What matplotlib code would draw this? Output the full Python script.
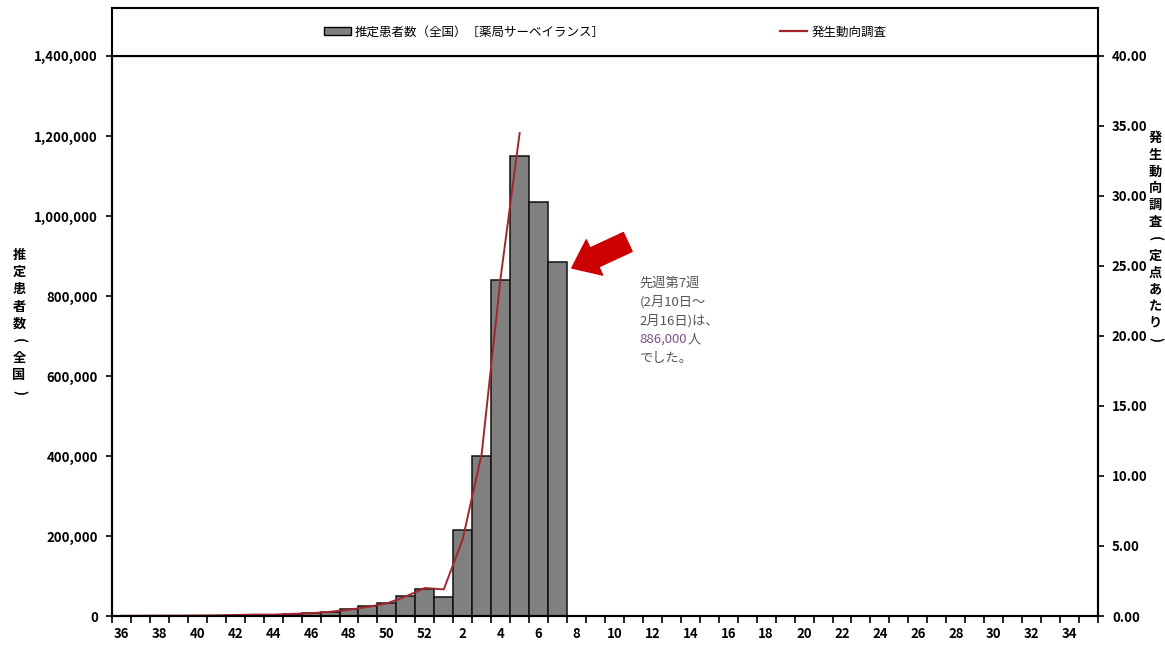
import matplotlib
matplotlib.use('Agg')
import numpy as np
import matplotlib.pyplot as plt
from matplotlib.patches import Patch
from matplotlib.lines import Line2D

plt.rcParams['font.family'] = ['Noto Sans CJK JP', 'DejaVu Sans']

# week numbers on the x axis (season: week 36 .. week 35)
weeks = list(range(36, 53)) + list(range(1, 36))

# estimated patients (pharmacy surveillance), week 36 .. week 7
patients = [0, 0, 0, 0, 0, 0, 0,
            2000, 3000, 4000, 7000, 10000, 17500, 25000, 32500, 50000, 67500,
            47500, 215000, 400000, 840000, 1150000, 1035000, 886000]

# sentinel surveillance (per sentinel site), week 36 .. week 5
sentinel = [0.02, 0.02, 0.03, 0.03, 0.04, 0.05, 0.07,
            0.1, 0.1, 0.15, 0.2, 0.3, 0.45, 0.65, 0.9, 1.4, 2.0,
            1.9, 5.5, 11.6, 24.2, 34.5]

left_ticks = list(range(0, 1400001, 200000))
right_ticks = [0, 5, 10, 15, 20, 25, 30, 35, 40]

bar_label = '推定患者数（全国）［薬局サーベイランス］'
line_label = '発生動向調査'
left_ylabel = '推定患者数(全国)'
right_ylabel = '発生動向調査(定点あたり)'
note_lines = ['先週第7週', '(2月10日～', '2月16日)は、', '886,000', 'でした。']

BAR_COLOR = '#808080'
LINE_COLOR = '#a3262f'
TEXT_GRAY = '#555555'
H = 657.0
W = 1165.0


def vertical_text(fig, x_px, y_top_px, text, step_px, size):
    # stack characters top to bottom, parentheses turned sideways
    for i, ch in enumerate(text):
        y = 1 - (y_top_px + i * step_px) / H
        rot = 270 if ch in '()' else 0
        fig.text(x_px / W, y, ch, ha='center', va='center', rotation=rot,
                 fontsize=size, fontweight='bold')


def main():
    fig = plt.figure(figsize=(11.65, 6.57), dpi=100)
    ax = fig.add_axes([0.0961, 0.0624, 0.8464, 0.8524])
    ax2 = ax.twinx()

    n = len(weeks)
    ax.bar(np.arange(len(patients)), patients, width=1.0, color=BAR_COLOR,
           edgecolor='#111111', linewidth=1.1, zorder=2)
    ax2.plot(np.arange(len(sentinel)), sentinel, color=LINE_COLOR, linewidth=1.4)

    ax.set_xlim(-0.5, n - 0.5)
    ax.set_ylim(0, 1400000)
    ax2.set_ylim(0, 40)

    # ticks at category boundaries, labels every other week
    ax.set_xticks(np.arange(n + 1) - 0.5)
    ax.set_xticklabels([])
    ax.tick_params(axis='x', which='major', direction='out', length=5, width=1.2)
    ax.set_xticks(np.arange(0, n, 2), minor=True)
    ax.set_xticklabels([str(w) for w in weeks[::2]], minor=True,
                       fontsize=9.5, fontweight='bold')
    ax.tick_params(axis='x', which='minor', length=0, pad=8)

    ax.set_yticks(left_ticks)
    ax.set_yticklabels(['{:,}'.format(v) for v in left_ticks], fontsize=9.5, fontweight='bold')
    ax.tick_params(axis='y', direction='out', length=4, width=1.2, pad=6)
    ax2.set_yticks(right_ticks)
    ax2.set_yticklabels(['{:.2f}'.format(v) for v in right_ticks], fontsize=9.5, fontweight='bold')
    ax2.tick_params(axis='y', direction='out', length=4, width=1.2, pad=6)

    for a in (ax, ax2):
        for s in a.spines.values():
            s.set_linewidth(1.5)

    # vertical axis titles
    vertical_text(fig, 19, 255, left_ylabel, 17.2, 9.5)
    vertical_text(fig, 1155, 138, right_ylabel, 16.8, 9.5)

    # legend box on top of the plot
    lax = fig.add_axes([0.0961, 0.9148, 0.8464, 0.073])
    lax.set_xticks([])
    lax.set_yticks([])
    for s in lax.spines.values():
        s.set_linewidth(1.5)
    handles = [Patch(facecolor=BAR_COLOR, edgecolor='black', linewidth=1.0),
               Line2D([0], [0], color=LINE_COLOR, linewidth=1.6)]
    lax.legend(handles, [bar_label, line_label], loc='center', ncol=2, frameon=False,
               fontsize=9, handlelength=2.2, handletextpad=0.3, columnspacing=14)

    # callout arrow and note
    ax.annotate('', xy=(23.75, 870000), xytext=(26.7, 935000),
                arrowprops=dict(arrowstyle='simple,head_length=0.9,head_width=1.4,tail_width=0.75',
                                mutation_scale=20, color='#cc0000', shrinkA=0, shrinkB=0))
    for i, line in enumerate(note_lines):
        y = 1 - (283 + i * 18.8) / H
        if line == '886,000':
            t = fig.text(0.549, y, line, fontsize=9.5, color='#7b4f8c', va='center')
            fig.canvas.draw()
            bb = t.get_window_extent()
            fig.text(bb.x1 / fig.bbox.width, y, '人', fontsize=9.5, color=TEXT_GRAY, va='center')
        else:
            fig.text(0.549, y, line, fontsize=9.5, color=TEXT_GRAY, va='center')

    plt.savefig('out.png', dpi=100)
    plt.close()


if __name__ == '__main__':
    main()
